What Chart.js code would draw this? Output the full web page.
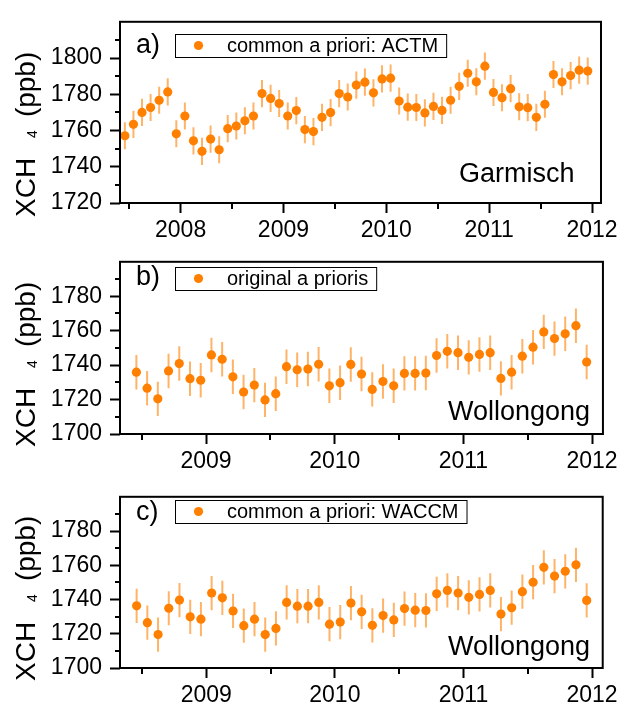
<!DOCTYPE html>
<html>
<head>
<meta charset="utf-8">
<script src="https://cdn.jsdelivr.net/npm/chart.js@4.4.1/dist/chart.umd.min.js"></script>
<style>
  body { margin: 0; background: #fff; }
  #wrap { position: relative; width: 622px; height: 707px; }
  canvas { position: absolute; left: 0; }
</style>
</head>
<body>
<div id="wrap">
  <canvas id="chartA" width="622" height="240" style="top:0px"></canvas>
  <canvas id="chartB" width="622" height="235" style="top:240px"></canvas>
  <canvas id="chartC" width="622" height="232" style="top:475px"></canvas>
</div>
<script>
const FONT = "Arial, 'Liberation Sans', sans-serif";
const ORANGE = "#ff8000";
const ERR_COLOR = "rgba(255, 128, 0, 0.6)";

// monthly means, first month given as [year, month]
const garmischStart = [2007, 6];
const garmischActm = [
  1757.1, 1763.4, 1770.0, 1772.7, 1776.7, 1781.3, 1758.2, 1768.0, 1754.3, 1748.5,
  1755.3, 1749.4, 1761.0, 1762.5, 1765.4, 1768.0, 1780.4, 1777.7, 1774.9, 1768.0,
  1771.0, 1760.5, 1759.4, 1767.3, 1769.9, 1780.4, 1778.5, 1785.1, 1786.7, 1780.8,
  1788.5, 1788.9, 1776.3, 1772.9, 1772.7, 1769.7, 1773.3, 1771.1, 1776.7, 1784.4,
  1791.6, 1786.9, 1795.5, 1781.0, 1778.1, 1783.1, 1773.1, 1772.6, 1767.3, 1774.5,
  1790.9, 1786.9, 1790.3, 1793.3, 1792.8
];
const garmischErr = 7.5;

const wollongongStart = [2008, 6];
const wollongongOrig = [
  1735.9, 1726.6, 1720.4, 1736.6, 1740.9, 1732.1, 1731.2, 1745.9, 1743.4, 1733.2,
  1724.4, 1728.4, 1719.8, 1723.4, 1739.1, 1737.3, 1737.7, 1740.5, 1728.0, 1729.8,
  1740.4, 1734.8, 1725.9, 1730.5, 1728.0, 1735.2, 1735.2, 1735.4, 1745.6, 1748.0,
  1747.2, 1744.5, 1746.2, 1747.2, 1732.3, 1735.9, 1745.2, 1750.4, 1759.3, 1755.4,
  1758.2, 1762.9, 1741.8
];
const wollongongWaccm = [
  1736.3, 1726.5, 1719.5, 1734.9, 1739.7, 1729.9, 1728.5, 1743.8, 1741.0, 1733.3,
  1724.7, 1728.5, 1719.5, 1723.1, 1738.3, 1736.1, 1736.1, 1738.3, 1725.6, 1726.8,
  1737.9, 1732.8, 1724.9, 1730.6, 1728.1, 1734.7, 1733.8, 1733.6, 1743.3, 1745.3,
  1743.8, 1741.3, 1743.0, 1745.3, 1731.5, 1735.2, 1744.6, 1750.1, 1758.8, 1753.7,
  1756.5, 1760.3, 1739.5
];
const wollongongErr = 10;

const yTicksA = [1720, 1740, 1760, 1780, 1800];
const yTicksBC = [1700, 1720, 1740, 1760, 1780];
const yearsA = [2008, 2009, 2010, 2011, 2012];
const yearsBC = [2009, 2010, 2011, 2012];

// mid-month decimal years
function monthTimes(start, n) {
  const out = [];
  for (let i = 0; i < n; i++) {
    const m = start[1] - 1 + i;
    out.push(start[0] + (m + 0.5) / 12);
  }
  return out;
}

function decor(opt) {
  return {
    id: "decor",
    afterDraw(chart) {
      const ctx = chart.ctx;
      const a = chart.chartArea;
      const xs = chart.scales.x, ys = chart.scales.y;
      ctx.save();
      ctx.strokeStyle = "#000";
      ctx.fillStyle = "#000";

      // frame
      ctx.lineWidth = 2;
      ctx.strokeRect(a.left, a.top, a.right - a.left, a.bottom - a.top);

      // minor ticks
      ctx.lineWidth = 2;
      ctx.beginPath();
      for (let v = ys.min + 10; v < ys.max; v += 20) {
        const py = Math.round(ys.getPixelForValue(v));
        ctx.moveTo(a.left - 5, py);
        ctx.lineTo(a.left, py);
      }
      for (let v = Math.floor(xs.min) + 0.5; v < xs.max; v += 1) {
        if (v < xs.min) continue;
        const px = Math.round(xs.getPixelForValue(v));
        ctx.moveTo(px, a.bottom);
        ctx.lineTo(px, a.bottom + 6);
      }
      ctx.stroke();

      // panel letter
      ctx.font = "27px " + FONT;
      ctx.textAlign = "left";
      ctx.textBaseline = "alphabetic";
      ctx.fillText(opt.letter, 136, opt.letterY);

      // legend box
      ctx.font = "20px " + FONT;
      ctx.textBaseline = "middle";
      const ly = opt.legendTop + 11.5;
      const tw = ctx.measureText(opt.legend).width;
      ctx.lineWidth = 1;
      ctx.strokeRect(175.5, opt.legendTop + 0.5, 227 + tw + 8 - 175, 23);
      ctx.fillText(opt.legend, 227, ly + 1);
      ctx.fillStyle = ORANGE;
      ctx.beginPath();
      ctx.arc(198.5, ly, 4.6, 0, Math.PI * 2);
      ctx.fill();

      // site name
      ctx.fillStyle = "#000";
      ctx.font = "27px " + FONT;
      ctx.textBaseline = "alphabetic";
      ctx.fillText(opt.site, opt.siteX, opt.siteY);

      // y title with subscript
      ctx.translate(35, opt.titleY);
      ctx.rotate(-Math.PI / 2);
      ctx.font = "28px " + FONT;
      ctx.fillText("XCH", 0, 0);
      let w = ctx.measureText("XCH").width;
      ctx.font = "14px " + FONT;
      ctx.fillText("4", w + 20, 2);
      w += 20 + ctx.measureText("4").width + 13;
      ctx.font = "28px " + FONT;
      ctx.fillText("(ppb)", w, 0);
      ctx.restore();
    }
  };
}

function panel(id, opt) {
  const xs = monthTimes(opt.start, opt.values.length);
  const pts = opt.values.map((v, i) => ({ x: xs[i], y: v }));
  const bars = [];
  opt.values.forEach((v, i) => {
    bars.push({ x: xs[i], y: v - opt.err }, { x: xs[i], y: v + opt.err }, { x: xs[i], y: null });
  });

  const tickFont = { family: FONT, size: 23 };
  new Chart(document.getElementById(id), {
    type: "scatter",
    data: {
      datasets: [
        { label: opt.legend, data: pts, pointRadius: 4.6, pointBackgroundColor: ORANGE,
          pointBorderWidth: 0, order: 0 },
        { label: "error", data: bars, showLine: true, pointRadius: 0, borderColor: ERR_COLOR,
          borderWidth: 2, spanGaps: false, order: 1 }
      ]
    },
    options: {
      responsive: false,
      animation: false,
      events: [],
      layout: { padding: { top: opt.padTop, right: opt.padRight, left: 0, bottom: 0 } },
      plugins: { legend: { display: false }, tooltip: { enabled: false } },
      scales: {
        x: {
          type: "linear", min: opt.xMin, max: opt.xMax,
          afterFit: s => { s.height = opt.xHeight; },
          afterBuildTicks: s => { s.ticks = opt.years.map(v => ({ value: v })); },
          ticks: { font: tickFont, color: "#000", padding: 4, maxRotation: 0, autoSkip: false,
                   callback: v => String(v) },
          grid: { drawOnChartArea: false, tickLength: 10, tickWidth: 2, tickColor: "#000" },
          border: { display: false }
        },
        y: {
          type: "linear", min: opt.yMin, max: opt.yMin + 100,
          afterFit: s => { s.width = 120; },
          afterBuildTicks: s => { s.ticks = opt.yTicks.map(v => ({ value: v })); },
          ticks: { font: tickFont, color: "#000", padding: 8, callback: v => String(v) },
          grid: { drawOnChartArea: false, tickLength: 10, tickWidth: 2, tickColor: "#000" },
          border: { display: false }
        }
      }
    },
    plugins: [decor(opt)]
  });
}

panel("chartA", {
  start: garmischStart, values: garmischActm, err: garmischErr,
  xMin: 2007.411, xMax: 2012.087, years: yearsA,
  yMin: 1720, yTicks: yTicksA,
  padTop: 17, padRight: 20, xHeight: 37,
  letter: "a)", letterY: 53, legend: "common a priori: ACTM", legendTop: 34,
  site: "Garmisch", siteX: 459, siteY: 181.5, titleY: 217
});

panel("chartB", {
  start: wollongongStart, values: wollongongOrig, err: wollongongErr,
  xMin: 2008.331, xMax: 2012.085, years: yearsBC,
  yMin: 1700, yTicks: yTicksBC,
  padTop: 7, padRight: 18, xHeight: 41,
  letter: "b)", letterY: 44.5, legend: "original a prioris", legendTop: 27,
  site: "Wollongong", siteX: 448, siteY: 180, titleY: 207
});

panel("chartC", {
  start: wollongongStart, values: wollongongWaccm, err: wollongongErr,
  xMin: 2008.329, xMax: 2012.083, years: yearsBC,
  yMin: 1700, yTicks: yTicksBC,
  padTop: 7, padRight: 17, xHeight: 39,
  letter: "c)", letterY: 44.5, legend: "common a priori: WACCM", legendTop: 25,
  site: "Wollongong", siteX: 448, siteY: 179.5, titleY: 206
});
</script>
</body>
</html>
